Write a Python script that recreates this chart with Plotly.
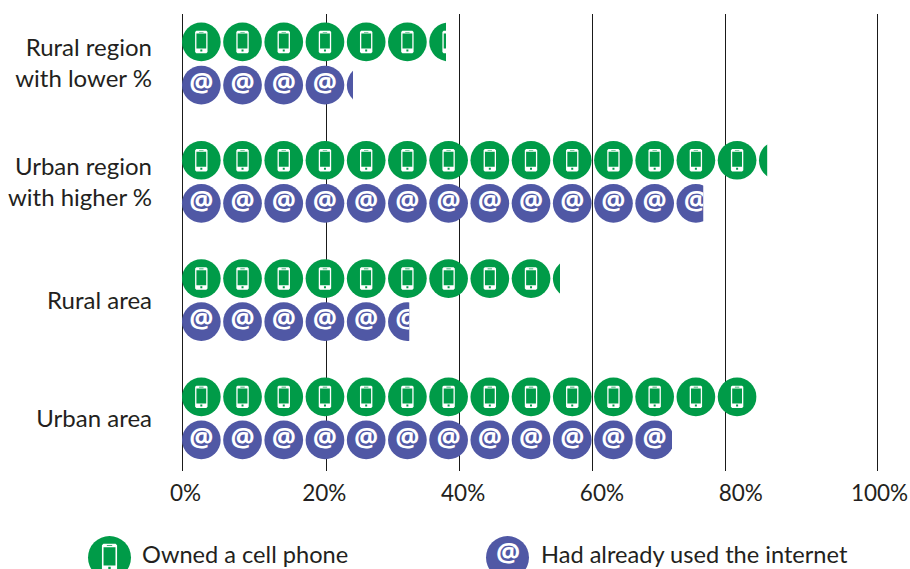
import math
import plotly.graph_objects as go

categories = ["Rural region<br>with lower %", "Urban region<br>with higher %", "Rural area", "Urban area"]
cell_phone = [38.0, 84.2, 54.4, 82.7]
internet = [24.6, 75.0, 32.7, 70.5]
x_ticks = [0, 20, 40, 60, 80, 100]
x_labels = ["0%", "20%", "40%", "60%", "80%", "100%"]
# the reference's vertical rules are unevenly placed relative to its labels
grid_positions = [0, 20.76, 39.9, 59.1, 78.2, 100]
legend_labels = ["Owned a cell phone", "Had already used the internet"]

GREEN = "#009b48"
BLUE = "#5058a5"
INK = "#231f20"
FONT = "Lato"
UNIT = 5.93      # percent per pictogram
FIRST = 2.78     # centre of the first pictogram
OFFSET = 0.182   # row offset inside a group

W, H = 910, 569
X0, X100, T, B = 182, 877, 14, 471   # pixel position of 0 % and 100 %
LABEL0, LABEL100 = 185.5, 879.5      # centres of the first and last tick label
L, R = X0 - 3, X100 + 8              # plot area, wide enough for the end rules and labels
PW, PH = R - L, B - T
SCALE = (X100 - X0) / 100
XMIN, XMAX = (L - X0) / SCALE, (R - X0) / SCALE
LSCALE = (LABEL100 - LABEL0) / 100
LMIN, LMAX = (L - LABEL0) / LSCALE, (R - LABEL0) / LSCALE


def rect(x0, y0, x1, y1):
    return f"M{x0},{y0}L{x1},{y0}L{x1},{y1}L{x0},{y1}Z"


def phone_path(s=1.0):
    w, h = 6.2 * s, 11.2 * s
    c = 1.2 * s
    outer = (f"M{-w+c},{-h}L{w-c},{-h}L{w},{-h+c}L{w},{h-c}L{w-c},{h}L{-w+c},{h}"
             f"L{-w},{h-c}L{-w},{-h+c}Z")
    screen = rect(-4.9 * s, -6.6 * s, 4.9 * s, 8.4 * s)
    speaker = rect(-2.2 * s, 9.4 * s, 2.2 * s, 10.0 * s)
    button = rect(-1 * s, -9.6 * s, 1 * s, -7.6 * s)
    return outer + screen + speaker + button


fig = go.Figure()
# empty traces keep the grid axis and the label axis alive
fig.add_trace(go.Scatter(x=[], y=[], xaxis="x", yaxis="y", showlegend=False, hoverinfo="skip"))
fig.add_trace(go.Scatter(x=[], y=[], xaxis="x2", yaxis="y", showlegend=False, hoverinfo="skip"))
layout_axes = {}
shapes = []
axis_no = 2


def add_row(name, value, y, color, kind):
    global axis_no
    axis_no += 1
    xname = f"x{axis_no}"
    layout_axes[f"xaxis{axis_no}"] = dict(
        domain=[0, (value - XMIN) / (XMAX - XMIN)], range=[XMIN, value], anchor="y",
        visible=False, fixedrange=True, automargin=False,
    )
    n = math.ceil((value - 0.05) / UNIT)
    xs = [FIRST + i * UNIT for i in range(n)]
    ys = [y] * n
    fig.add_trace(go.Scatter(
        x=xs, y=ys, xaxis=xname, yaxis="y", name=name, showlegend=False,
        mode="markers+text" if kind == "at" else "markers",
        marker=dict(symbol="circle", size=38.7, color=color, line=dict(width=0)),
        text=["@"] * n if kind == "at" else None,
        textposition="middle center",
        textfont=dict(family="Open Sans", size=27, color="white", weight=700),
        hoverinfo="skip",
    ))
    if kind == "phone":
        for xv in xs:
            shapes.append(dict(
                type="path", path=phone_path(), xref=xname, yref="y",
                xsizemode="pixel", ysizemode="pixel", xanchor=xv, yanchor=y,
                fillcolor="white", line=dict(width=0), layer="above",
            ))


for g, cat in enumerate(categories):
    add_row(legend_labels[0], cell_phone[g], g - OFFSET, GREEN, "phone")
    add_row(legend_labels[1], internet[g], g + OFFSET, BLUE, "at")

# custom legend, clipped by the bottom of the page
px = lambda v: (v - L) / PW
py = lambda v: (B - v) / PH
LEG_Y = 557.5
for cx, color in ((109.5, GREEN), (507.5, BLUE)):
    shapes.append(dict(type="circle", xref="paper", yref="paper",
                       x0=px(cx - 21.5), x1=px(cx + 21.5), y0=py(LEG_Y + 21.5), y1=py(LEG_Y - 21.5),
                       fillcolor=color, line=dict(width=0), layer="above"))
shapes.append(dict(type="path", path=phone_path(1.22), xref="paper", yref="paper",
                   xsizemode="pixel", ysizemode="pixel", xanchor=px(109.5), yanchor=py(LEG_Y),
                   fillcolor="white", line=dict(width=0), layer="above"))

annotations = [
    dict(text="@", xref="paper", yref="paper", x=px(507.5), y=py(551), yanchor="middle",
         showarrow=False, font=dict(family="Open Sans", size=27, color="white", weight=700)),
    dict(text=legend_labels[0], xref="paper", yref="paper", x=px(140), y=py(554),
         xanchor="left", yanchor="middle", showarrow=False, font=dict(family=FONT, size=23.6, color=INK)),
    dict(text=legend_labels[1], xref="paper", yref="paper", x=px(539), y=py(554),
         xanchor="left", yanchor="middle", showarrow=False, font=dict(family=FONT, size=23.6, color=INK)),
]

top = -(63.5 - T) / 118.3
bottom = (B - 63.5) / 118.3

fig.update_layout(
    width=W, height=H,
    margin=dict(l=L, r=W - R, t=T, b=H - B, pad=0),
    paper_bgcolor="white", plot_bgcolor="rgba(0,0,0,0)",
    showlegend=False,
    font=dict(family=FONT, size=24, color=INK),
    xaxis=dict(range=[XMIN, XMAX], tickvals=grid_positions, showticklabels=False, showgrid=True,
               gridcolor="#1a1a1a", gridwidth=1, zeroline=False, showline=False, ticks="",
               fixedrange=True, anchor="y", automargin=False),
    xaxis2=dict(range=[LMIN, LMAX], tickvals=x_ticks, ticktext=x_labels, showgrid=False,
                zeroline=False, showline=False, ticks="", ticklabelstandoff=6,
                ticklabeloverflow="allow", tickfont=dict(family=FONT, size=22.5, color=INK),
                fixedrange=True, anchor="y", automargin=False),
    yaxis=dict(range=[bottom, top], tickvals=list(range(len(categories))), ticktext=categories,
               showgrid=False, zeroline=False, showline=False, ticks="",
               ticklabelstandoff=26, fixedrange=True, automargin=False),
    shapes=shapes, annotations=annotations,
    **layout_axes,
)

fig.write_html("out.html", config=dict(displayModeBar=False),
               post_script="document.body.style.margin='0';document.body.style.overflow='hidden';")
